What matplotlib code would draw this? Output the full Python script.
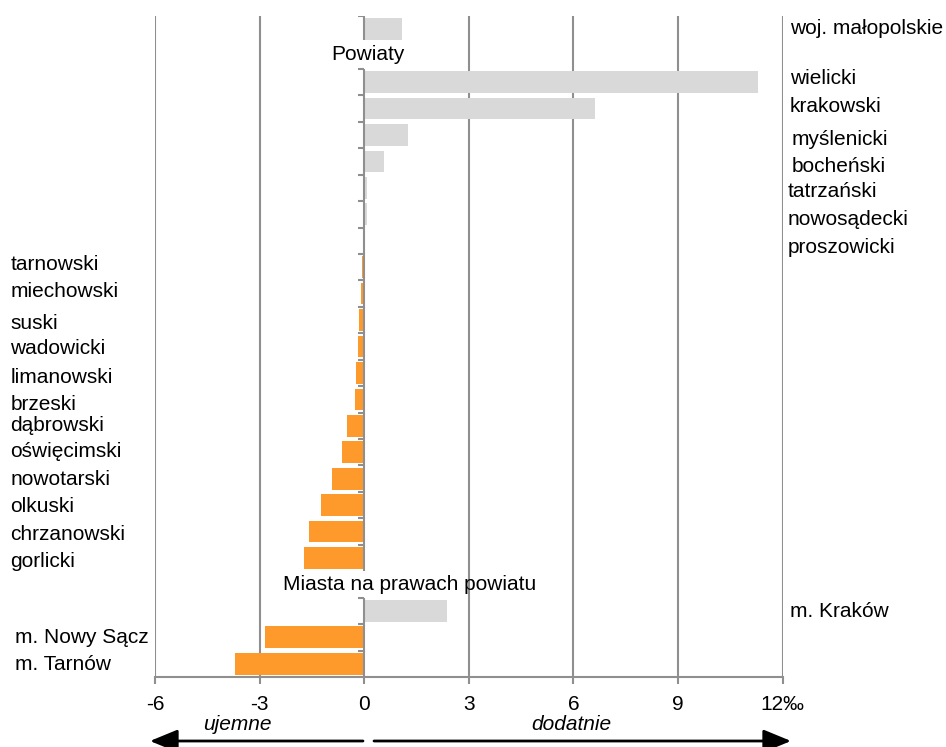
import numpy as np
import matplotlib.pyplot as plt

plt.rcParams['font.family'] = ['Liberation Sans', 'DejaVu Sans']

# rows top to bottom; None = section heading row
labels = ["woj. małopolskie", None,
          "wielicki", "krakowski", "myślenicki", "bocheński", "tatrzański",
          "nowosądecki", "proszowicki",
          "tarnowski", "miechowski", "suski", "wadowicki", "limanowski",
          "brzeski", "dąbrowski", "oświęcimski", "nowotarski", "olkuski",
          "chrzanowski", "gorlicki", None,
          "m. Kraków", "m. Nowy Sącz", "m. Tarnów"]
values = [1.08, np.nan,
          11.3, 6.63, 1.26, 0.57, 0.09, 0.07, 0.02,
          -0.06, -0.09, -0.14, -0.17, -0.23, -0.26, -0.49, -0.63, -0.92,
          -1.23, -1.58, -1.72, np.nan,
          2.37, -2.84, -3.70]
headings = {1: "Powiaty", 21: "Miasta na prawach powiatu"}
groups = [(0, 0), (2, 20), (22, 24)]
xticks = [-6, -3, 0, 3, 6, 9, 12]
xticklabels = ["-6", "-3", "0", "3", "6", "9", "12‰"]

# label placement tweaks (pixels), as in the original layout
label_dy = [-1, 0,
            -4, -2, 5, 5, 4, 5, 7,
            -3, -2, 3, 2, 5, 5, 0, -1, 1, 1, 3, 3, 0,
            1, 0, 1]
label_dx = [0, 0,
            0, 0, 2, 2, -2, -2, -2,
            0, 0, 0, 0, 0, 0, 0, 0, 0, 0, 0, 0, 0,
            0, 5, 5]

gray = "#d9d9d9"
orange = "#fd9a2b"
line = "#8f8f8f"
fs = 15
row_px = 661 / 25

fig = plt.figure(figsize=(9.46, 7.47), dpi=100)
ax = fig.add_axes([155 / 946, 1 - 677 / 747, 627.5 / 946, 661 / 747])

y = np.arange(len(labels))
vals = np.array(values)
colors = [orange if v < 0 else gray for v in np.nan_to_num(vals)]
ax.barh(y, np.nan_to_num(vals), height=0.82, color=colors, zorder=2)

for g in xticks:
    if g != 0:
        ax.axvline(g, color=line, lw=1.5, zorder=1)

# zero axis drawn per section, with small ticks
for a, b in groups:
    top = a - 0.5
    bot = b + 0.5 if b < 24 else 24.5
    if a == 0:
        bot = 0.4
    ax.vlines(0, top, bot, color=line, lw=1.5, zorder=3)
    ticks = np.arange(a - 0.5, b + 0.5, 1.0)
    ax.hlines(ticks, -0.18, 0, color=line, lw=1.5, zorder=3)

ax.set_xlim(-6, 12)
ax.set_ylim(24.5, -0.5)
ax.set_yticks([])
ax.set_xticks(xticks)
ax.set_xticklabels(xticklabels, fontsize=fs)
ax.tick_params(axis='x', length=5, width=1.5, color=line, pad=8)
for s in ['top', 'left', 'right']:
    ax.spines[s].set_visible(False)
ax.spines['bottom'].set_color(line)
ax.spines['bottom'].set_linewidth(1.5)

trans = ax.get_yaxis_transform()
for i, (lab, v) in enumerate(zip(labels, values)):
    if lab is None:
        continue
    yy = i + label_dy[i] / row_px
    if v >= 0:
        xx = 1.012 + label_dx[i] / 627.5
    else:
        xx = -0.2305 + label_dx[i] / 627.5
    ax.text(xx, yy, lab, transform=trans, ha='left', va='center', fontsize=fs)

ax.text(0.1, 1 - 1 / row_px, headings[1], ha='center', va='center', fontsize=fs, zorder=4)
ax.text(1.3, 21, headings[21], ha='center', va='center', fontsize=fs, zorder=4)

# direction arrows under the axis
fig.text(237 / 946, 22 / 747, "ujemne", style='italic', ha='center', va='center', fontsize=fs)
fig.text(571 / 946, 22 / 747, "dodatnie", style='italic', ha='center', va='center', fontsize=fs)
astyle = dict(arrowstyle='-|>,head_length=0.85,head_width=0.35', color='black',
              lw=2, mutation_scale=20, shrinkA=0, shrinkB=0)
ax.annotate("", xy=(150, 6), xytext=(363, 6), xycoords='figure pixels',
            textcoords='figure pixels', arrowprops=astyle, annotation_clip=False)
ax.annotate("", xy=(791, 6), xytext=(374, 6), xycoords='figure pixels',
            textcoords='figure pixels', arrowprops=astyle, annotation_clip=False)

fig.savefig("out.png", dpi=100)
